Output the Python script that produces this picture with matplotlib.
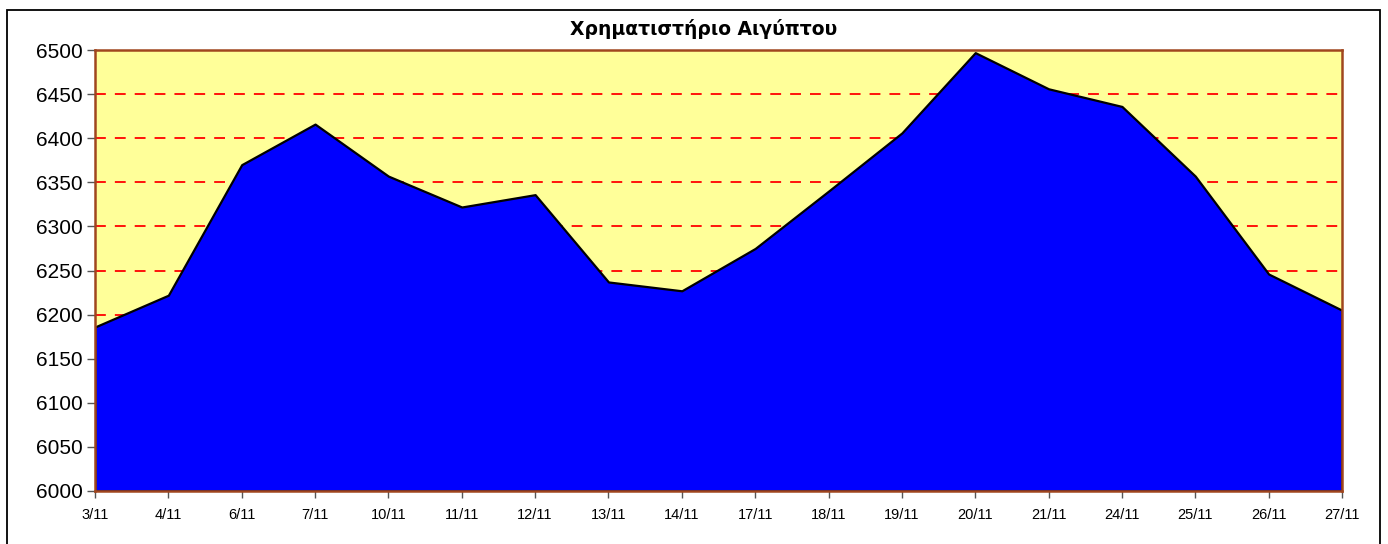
import matplotlib
matplotlib.use("Agg")
import matplotlib.pyplot as plt
import numpy as np
from matplotlib.patches import Rectangle

# data
dates = ["3/11", "4/11", "6/11", "7/11", "10/11", "11/11", "12/11", "13/11", "14/11",
         "17/11", "18/11", "19/11", "20/11", "21/11", "24/11", "25/11", "26/11", "27/11"]
values = [6186, 6222, 6370, 6416, 6357, 6322, 6336, 6237, 6227,
          6275, 6340, 6406, 6497, 6456, 6436, 6357, 6246, 6205]
yticks = [6000, 6050, 6100, 6150, 6200, 6250, 6300, 6350, 6400, 6450, 6500]
title = "Χρηματιστήριο Αιγύπτου"

plt.rcParams['font.family'] = ['Liberation Sans', 'DejaVu Sans']

W, H = 1388, 544
fig = plt.figure(figsize=(W/100, H/100), dpi=100)
ax = fig.add_axes([95/W, 1-491/H, (1342-95)/W, (491-50)/H])

# outer chart border
fig.patches.append(Rectangle((7/W, -0.05), (1380-7)/W, 1-10/H+0.05,
                             transform=fig.transFigure, fill=False,
                             edgecolor='black', linewidth=1.3, zorder=0))

x = np.arange(len(dates))
ax.set_facecolor('#FFFF99')
for yv in yticks[1:-1]:
    ax.axhline(yv, color='#FF0000', linestyle=(0, (6, 5)), linewidth=1.3, zorder=1)

ax.fill_between(x, values, 6000, facecolor='#0000FF', edgecolor='black',
                linewidth=1.6, zorder=2)

ax.set_xlim(0, len(dates)-1)
ax.set_ylim(6000, 6500)
ax.set_xticks(x)
ax.set_xticklabels(dates, fontsize=10.5)
ax.set_yticks(yticks)
ax.set_yticklabels([str(v) for v in yticks], fontsize=15)
ax.tick_params(axis='x', direction='out', length=5, width=1, color='#555555', pad=7)
ax.tick_params(axis='y', direction='out', length=6, width=1, color='#555555', pad=3)

for s in ax.spines.values():
    s.set_color('#A0461E')
    s.set_linewidth(1.8)
    s.set_zorder(3)

fig.text((565+842)/2/W, 1-29/H, title, ha='center', va='center',
         fontsize=13.5, fontweight='bold', family='DejaVu Sans')

fig.savefig("out.png", dpi=100, facecolor='white')
